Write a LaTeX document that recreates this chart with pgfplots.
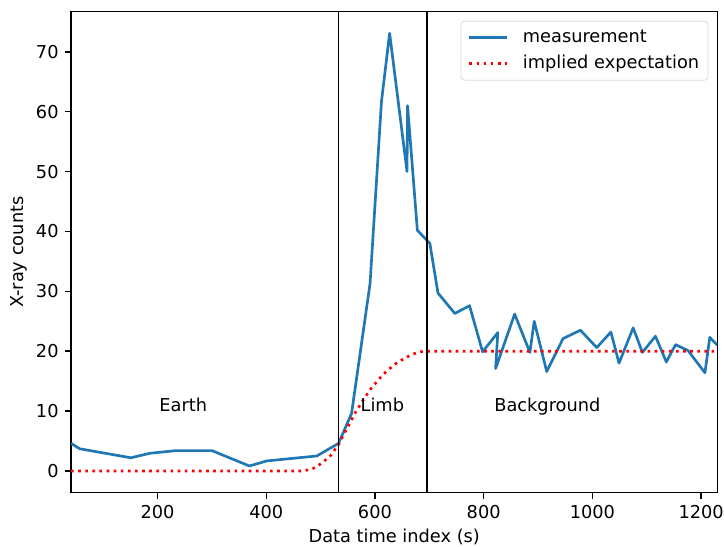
\documentclass[border=0pt]{standalone}
\usepackage{pgfplots}
\pgfplotsset{compat=1.18}
\usepackage{fontspec}
\setmainfont{DejaVu Sans}
\definecolor{mplblue}{HTML}{1F77B4}
\begin{document}
\begin{tikzpicture}
\begin{axis}[
  name=ax,
  scale only axis, width=363.8pt, height=270.7pt,
  xmin=41, xmax=1230, ymin=-3.63, ymax=76.7,
  xtick={200,400,600,800,1000,1200},
  ytick={0,10,20,30,40,50,60,70},
  tick align=outside, major tick length=3.5pt,
  tick pos=left,
  axis line style={line width=0.8pt},
  every tick/.style={black, line width=0.8pt},
  /pgf/number format/assume math mode=true,
  /pgf/number format/1000 sep={},
  tick label style={font=\fontsize{10}{12}\selectfont},
  label style={font=\fontsize{10}{12}\selectfont},
  xlabel={Data time index (s)}, ylabel={X-ray counts},
  xlabel style={at={(axis description cs:0.5,0)}, anchor=center, yshift=-25pt},
  ylabel style={at={(axis description cs:-0.0810,0.5)}, anchor=center},
  legend style={at={(0.986,0.981)}, anchor=north east, draw=black!15, rounded corners=2pt,
    font=\fontsize{10}{12}\selectfont, inner xsep=4pt, inner ysep=3.3pt, row sep=2.6pt,
    nodes={inner sep=1pt, text height=7.5pt, text depth=2.5pt},
    /tikz/every odd column/.append style={column sep=7.3pt}},
  legend cell align=left,
  legend image code/.code={\draw[#1] (0pt,0pt) -- (21pt,0pt);},
  clip=true,
]
\addplot[mplblue, line width=1.5pt, line join=round] coordinates {
(41,4.6) (57,3.7) (151,2.2) (186,2.95) (235,3.4) (300,3.4) (369,0.83) (401,1.67) (493,2.5) (533,4.6)
(557,9.6) (591,31.3) (612,61.7) (627,73.1) (659,50) (660,61) (678,40.2) (701,38.0) (716,29.7)
(747,26.3) (774,27.6) (798,19.9) (826,23.1) (822,17.1) (857,26.2) (885,19.8) (893,25.0) (916,16.6)
(946,22.1) (978,23.5) (1008,20.6) (1034,23.2) (1049,18.0) (1075,23.9) (1092,19.8) (1116,22.5)
(1136,18.2) (1153,21.1) (1176,20.1) (1207,16.4) (1216,22.3) (1230,21.0)
};
\addlegendentry{measurement}
\addplot[red, line width=1.5pt, dash pattern=on 1.5pt off 2.5pt] coordinates {
(41,0) (463,0) (473,0.1) (483,0.3) (493,0.7) (503,1.4) (517,2.4) (533,4.4) (548,7.0) (563,9.6)
(578,11.8) (593,13.8) (608,15.4) (623,16.8) (638,17.9) (654,18.8) (669,19.5) (684,19.9) (698,20) (1230,20)
};
\addlegendentry{implied expectation}
\draw[black, line width=0.9pt] (axis cs:533,-10) -- (axis cs:533,100);
\draw[black, line width=0.9pt] (axis cs:696,-10) -- (axis cs:696,100);
\node[anchor=base west, inner sep=0pt, font=\fontsize{10}{12}\selectfont] at (axis cs:203,10) {Earth};
\node[anchor=base west, font=\fontsize{10}{12}\selectfont, inner sep=0pt] at (axis cs:573,10) {Limb};
\node[anchor=base west, font=\fontsize{10}{12}\selectfont, inner sep=0pt] at (axis cs:819,10) {Background};
\end{axis}
\pgfresetboundingbox
\path ([shift={(-40pt,-30.5pt)}]ax.south west) rectangle ([shift={(3.7pt,6.6pt)}]ax.north east);
\end{tikzpicture}
\end{document}
